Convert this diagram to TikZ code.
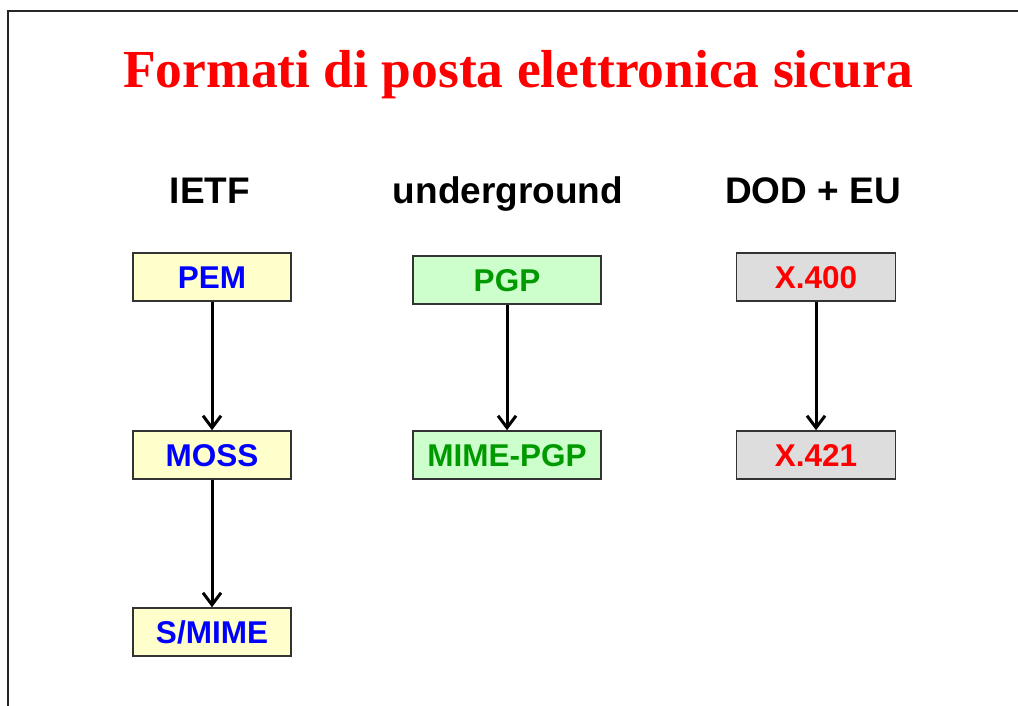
\documentclass[tikz,border=0pt]{standalone}
\usepackage{fontspec}
\setmainfont{Liberation Serif}
\setsansfont{Liberation Sans}
\usetikzlibrary{arrows.meta, positioning}

\definecolor{ietffill}{HTML}{FFFFCC}
\definecolor{ugfill}{HTML}{CCFFCC}
\definecolor{dodfill}{HTML}{DDDDDD}
\definecolor{ietftext}{HTML}{0000FF}
\definecolor{ugtext}{HTML}{009900}
\definecolor{dodtext}{HTML}{FF0000}

\begin{document}
\begin{tikzpicture}[x=1pt, y=-1pt,
  fmt/.style={draw=black!80, line width=1.5pt, minimum height=48pt,
              font=\sffamily\bfseries\fontsize{31.5}{34}\selectfont,
              text height=22.5pt, text depth=0pt, inner sep=0pt},
  ietf/.style={fmt, fill=ietffill, text=ietftext, minimum width=158pt},
  ug/.style={fmt, fill=ugfill, text=ugtext, minimum width=188pt},
  dod/.style={fmt, fill=dodfill, text=dodtext, minimum width=159pt},
  arr/.style={-{Straight Barb[length=12pt, width=18pt, line width=3pt]}, line width=3pt},
  hdr/.style={font=\sffamily\bfseries\fontsize{37}{40}\selectfont, anchor=base},
  ttl/.style={font=\bfseries\fontsize{53.5}{56}\selectfont, text=dodtext, anchor=base}
]
\useasboundingbox (0,0) rectangle (1018,706);
\draw[line width=2.5pt, black!85] (8,706) -- (8,11) -- (1018,11);
% ----- title -----
\node[ttl] (title) at (518,88) {Formati di posta elettronica sicura};
% ----- column headers -----
\node[hdr] (hietf) at (210,204) {IETF};
\node[hdr] (hug) at (508,204) {underground};
\node[hdr] (hdod) at (813,204) {DOD + EU};
% ----- IETF -----
\node[ietf] (pem) at (212,277) {PEM};
\node[ietf] (moss) at (212,455) {MOSS};
\node[ietf] (smime) at (212,632) {S/MIME};
\draw[arr] (pem) -- (moss);
\draw[arr] (moss) -- (smime);
% ----- underground -----
\node[ug] (pgp) at (507,280) {PGP};
\node[ug] (mimepgp) at (507,455) {MIME-PGP};
\draw[arr] (pgp) -- (mimepgp);
% ----- DOD + EU -----
\node[dod] (x400) at (816,277) {X.400};
\node[dod] (x421) at (816,455) {X.421};
\draw[arr] (x400) -- (x421);
\end{tikzpicture}
\end{document}
